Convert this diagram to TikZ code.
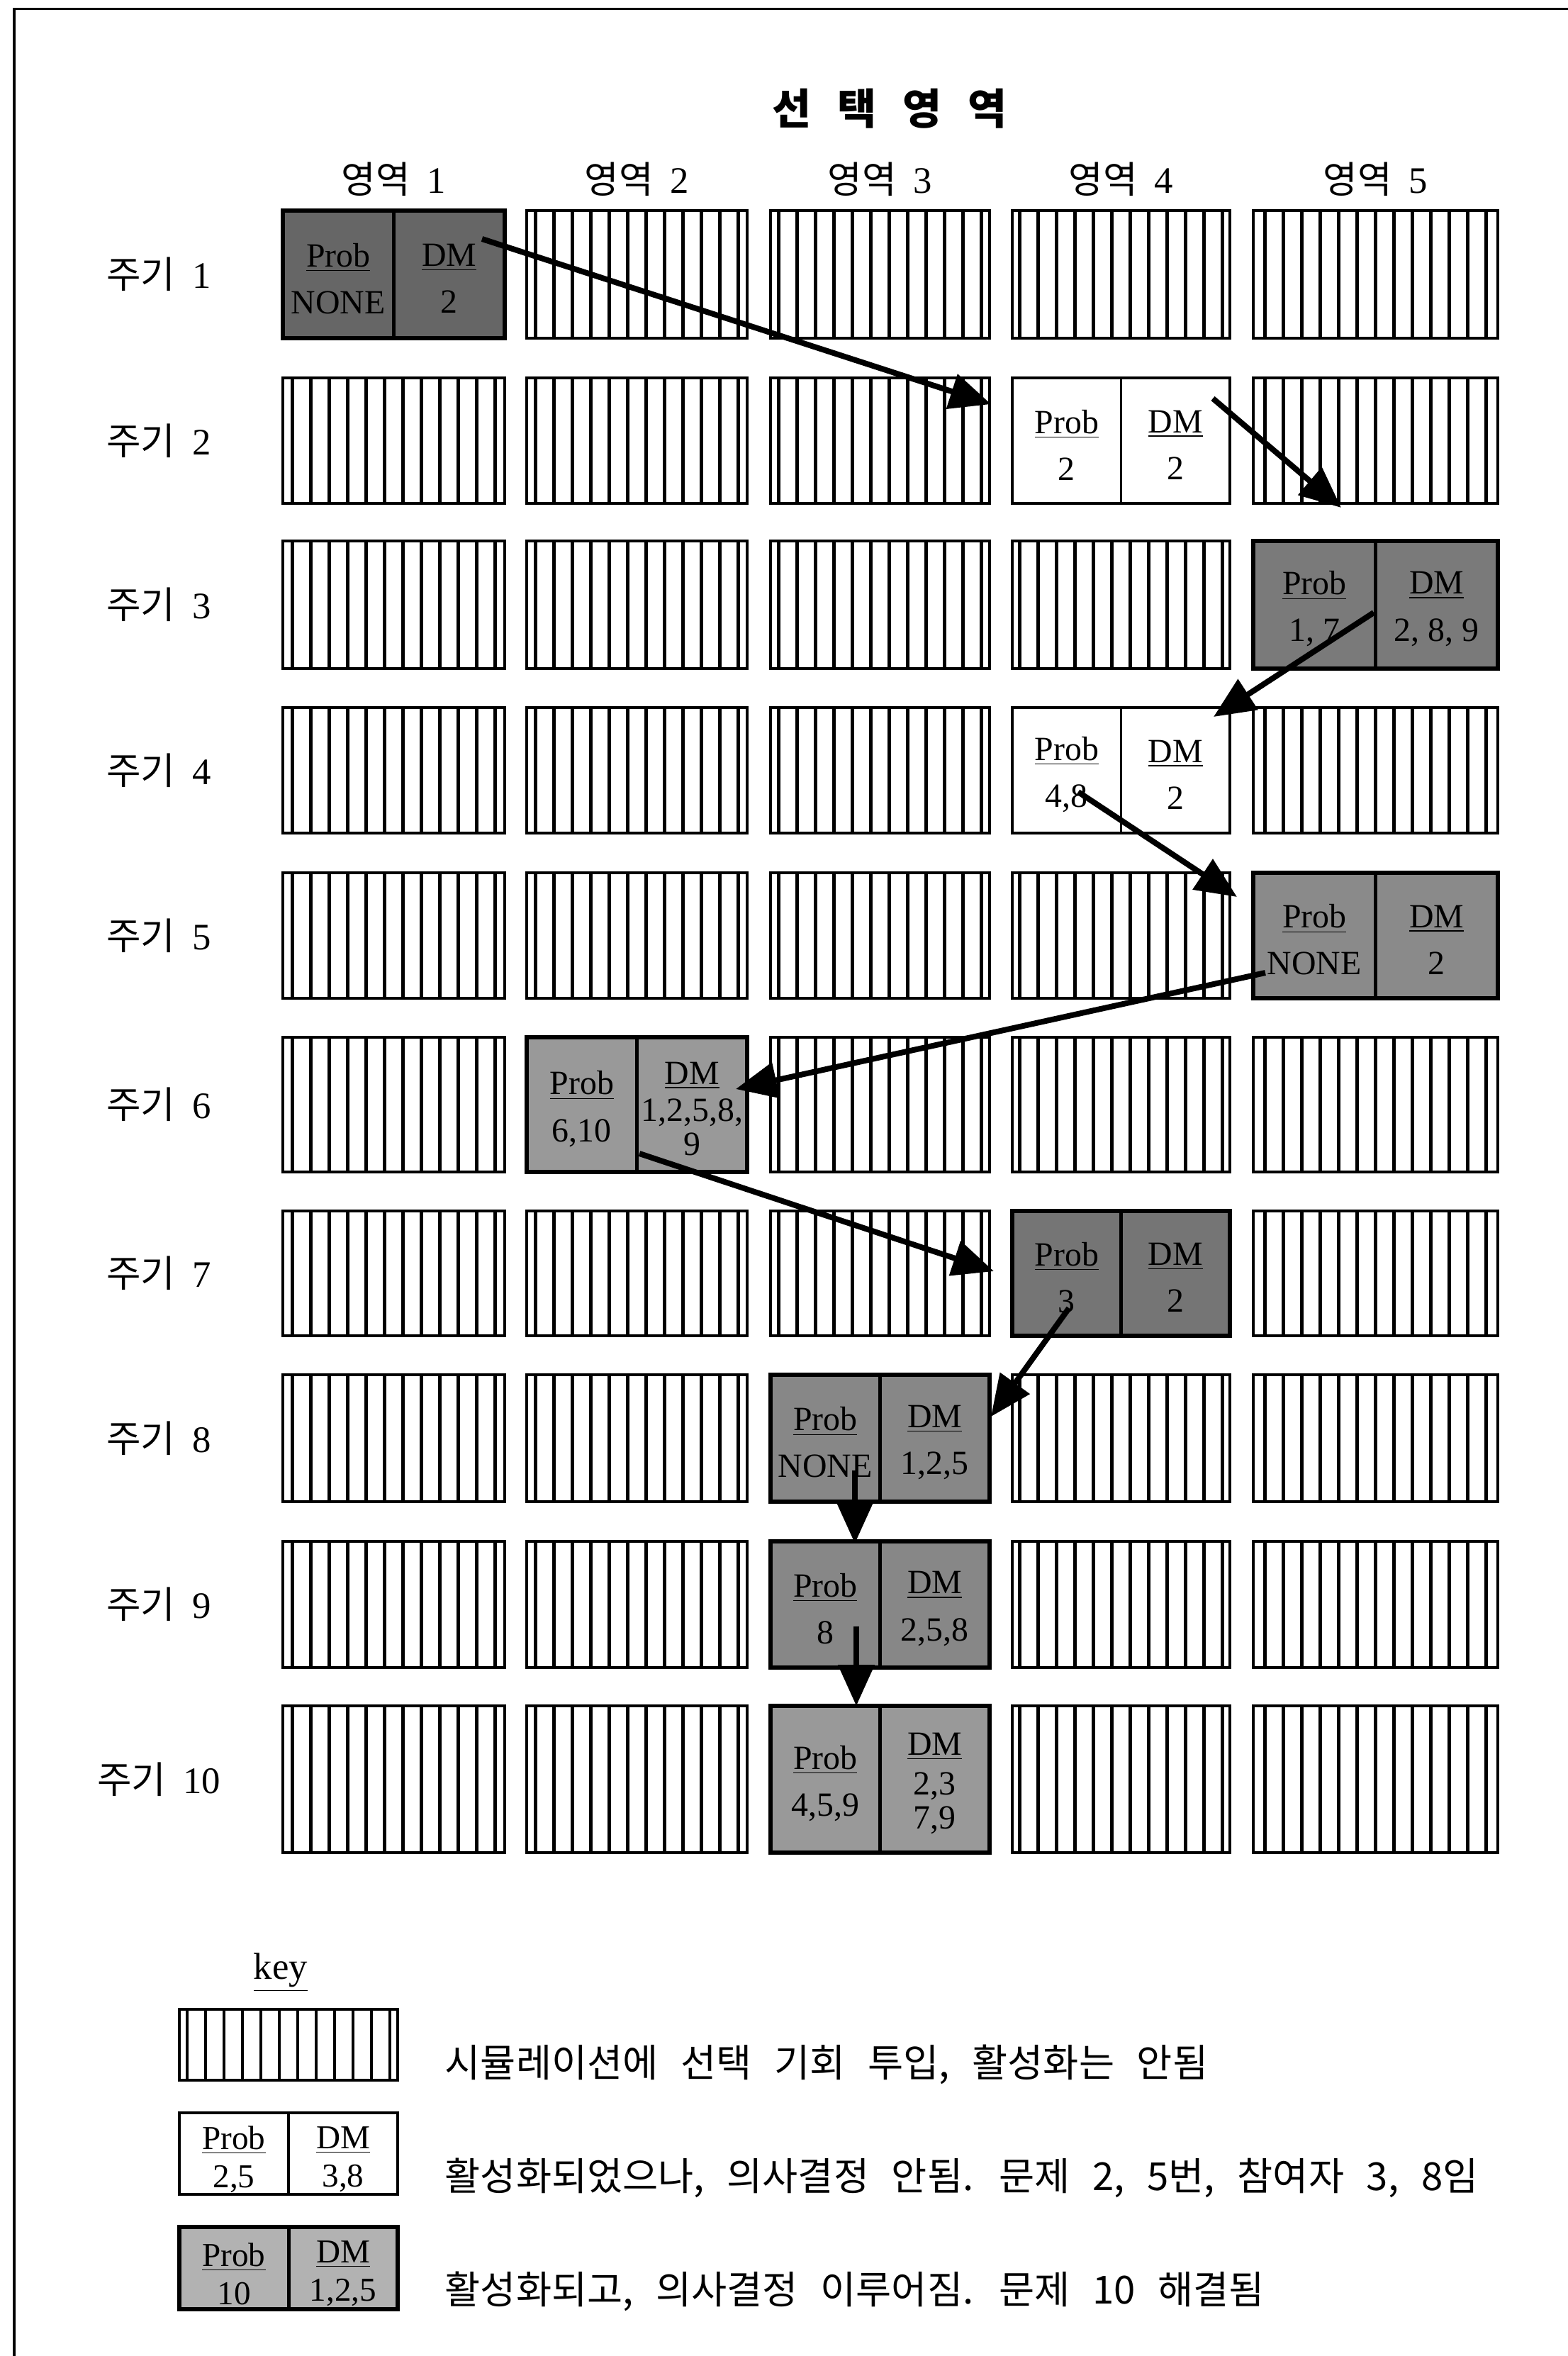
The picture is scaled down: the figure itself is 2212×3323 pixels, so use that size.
\documentclass[tikz,border=0pt]{standalone}
\usepackage{fontspec}
\setmainfont{Liberation Serif}
\newfontfamily\kr[WordSpace=2.6]{Noto Sans CJK KR}
\usetikzlibrary{arrows.meta,calc}
\tikzset{
  frameline/.style={line width=0.03cm},
  stripeframe/.style={line width=0.035cm},
  stripeline/.style={line width=0.045cm},
  open/.style={draw, rectangle, line width=0.035cm, inner sep=0pt, outer sep=0pt},
  opendiv/.style={line width=0.035cm},
  opentext/.style={inner sep=0pt, align=center, yshift=-0.06cm, font=\fontsize{13.6}{18.8}\selectfont},
  done/.style={draw, rectangle, line width=0.065cm, inner sep=0pt, outer sep=0pt},
  donediv/.style={line width=0.05cm},
  donetext/.style={inner sep=0pt, align=center, yshift=-0.06cm, font=\fontsize{13.6}{18.8}\selectfont},
  keyopen/.style={open},
  keyopendiv/.style={opendiv},
  keyopentext/.style={inner sep=0pt, align=center, yshift=-0.08cm, font=\fontsize{13.4}{15.4}\selectfont},
  keydone/.style={done},
  keydonediv/.style={donediv},
  keydonetext/.style={inner sep=0pt, align=center, yshift=-0.08cm, font=\fontsize{13.4}{15.4}\selectfont},
  hdr/.style={inner sep=0pt, font=\fontsize{15}{18}\selectfont},
  keytxt/.style={inner sep=0pt, anchor=base west, font=\fontsize{15.5}{18}\selectfont\kr},
  flow/.style={line width=0.08cm, -{Triangle[length=0.58cm,width=0.5cm]}},
}
% striped (not activated) box: left top right bottom
\newcommand\stripecell[4]{%
  \draw[stripeframe] (#1,#2) rectangle (#3,#4);
  \pgfmathtruncatemacro\nS{(#3-#1-20)/26}%
  \pgfmathsetmacro\oS{(#3-#1-\nS*26)/2}%
  \foreach \k in {0,...,\nS}{\draw[stripeline] ({#1+\oS+26*\k},#2) -- ({#1+\oS+26*\k},#4);}
}
% activated box: name kind fill l t r b probtext dmtext
\newcommand\actcell[9]{%
  \node[#2, fill=#3, minimum width={(#6-#4)*0.01cm}, minimum height={(#7-#5)*0.01cm}] (#1) at ({(#4+#6)/2},{(#5+#7)/2}) {};
  \draw[#2div] (#1.north) -- (#1.south);
  \node[#2text] (#1p) at ($(#1.center)!0.5!(#1.west)$) {#8};
  \node[#2text] (#1d) at ($(#1.center)!0.5!(#1.east)$) {#9};
}
\foreach \s in {1x1,2x4,3x5,4x4,5x5,6x2,7x4,8x3,9x3,10x3}{\expandafter\gdef\csname sp\s\endcsname{}}
\begin{document}
\begin{tikzpicture}[x=0.01cm,y=-0.01cm]
\useasboundingbox (0,0) rectangle (2212,3323);
\fill[white] (0,0) rectangle (2212,3323);
% frame (top and left edges only visible)
\draw[frameline] (20,3323) -- (20,12) -- (2212,12);
% title
\node[inner sep=0pt, font=\fontsize{17}{20}\selectfont\kr\bfseries] (title) at (1255,153) {선\hspace{0.62em}택\hspace{0.62em}영\hspace{0.62em}역};
% column headers
\foreach \c/\l/\rr in {1/399/712,2/743/1054,3/1087/1396,4/1428/1735,5/1768/2113}{
  \node[hdr] (h\c) at ({(\l+\rr)/2},253) {{\kr 영역}\hspace{0.45em}\c};
}
% rows: labels and not-activated boxes
\foreach \r/\t/\b in {1/297/477,2/533/710,3/763/943,4/998/1175,5/1231/1408,6/1463/1653,7/1708/1884,8/1939/2118,9/2174/2352,10/2406/2613}{
  \node[hdr] (r\r) at (224,{(\t+\b)/2}) {{\kr 주기}\hspace{0.45em}\r};
  \foreach \c/\l/\rr in {1/399/712,2/743/1054,3/1087/1396,4/1428/1735,5/1768/2113}{
    \ifcsname sp\r x\c\endcsname\else
      \stripecell{\l}{\t}{\rr}{\b}
    \fi
  }
}
% activated boxes
\actcell{b11}{done}{black!60}{399}{297}{712}{477}{\underline{Prob}\\NONE}{\underline{DM}\\2}
\actcell{b24}{open}{white}{1428}{533}{1735}{710}{\underline{Prob}\\2}{\underline{DM}\\2}
\actcell{b35}{done}{black!52}{1768}{763}{2113}{943}{\underline{Prob}\\1, 7}{\underline{DM}\\2, 8, 9}
\actcell{b44}{open}{white}{1428}{998}{1735}{1175}{\underline{Prob}\\4,8}{\underline{DM}\\2}
\actcell{b55}{done}{black!46}{1768}{1231}{2113}{1408}{\underline{Prob}\\NONE}{\underline{DM}\\2}
\actcell{b62}{done}{black!40}{743}{1463}{1054}{1653}{\underline{Prob}\\6,10}{\underline{DM}\\[-4pt]1,2,5,8,\\[-5pt]9}
\actcell{b74}{done}{black!54}{1428}{1708}{1735}{1884}{\underline{Prob}\\3}{\underline{DM}\\2}
\actcell{b83}{done}{black!47}{1087}{1939}{1396}{2118}{\underline{Prob}\\NONE}{\underline{DM}\\1,2,5}
\actcell{b93}{done}{black!47}{1087}{2174}{1396}{2352}{\underline{Prob}\\8}{\underline{DM}\\2,5,8}
\actcell{b103}{done}{black!40}{1087}{2406}{1396}{2613}{\underline{Prob}\\4,5,9}{\underline{DM}\\[-3pt]2,3\\[-5pt]7,9}
% flow arrows
\coordinate (a1s) at (680,337);   \coordinate (a1e) at (1398,570);
\coordinate (a2s) at (1711,562);  \coordinate (a2e) at (1892,716);
\coordinate (a3s) at (1938,864);  \coordinate (a3e) at (1712,1011);
\coordinate (a4s) at (1521,1117); \coordinate (a4e) at (1745,1265);
\coordinate (a5s) at (1785,1372); \coordinate (a5e) at (1038,1536);
\coordinate (a6s) at (902,1627);  \coordinate (a6e) at (1402,1793);
\coordinate (a7s) at (1508,1845); \coordinate (a7e) at (1398,1998);
\coordinate (a8s) at (1206,2074); \coordinate (a8e) at (1206,2177);
\coordinate (a9s) at (1208,2294); \coordinate (a9e) at (1208,2406);
\foreach \i in {1,...,9}{\draw[flow] (a\i s) -- (a\i e);}
% key
\node[inner sep=0pt, anchor=base, font=\fontsize{15}{18}\selectfont] (keyttl) at (396,2791) {\underline{key}};
\stripecell{253}{2834}{561}{2934}
\actcell{k2}{keyopen}{white}{253}{2980}{561}{3095}{\underline{Prob}\\2,5}{\underline{DM}\\3,8}
\actcell{k3}{keydone}{black!30}{253}{3141}{561}{3257}{\underline{Prob}\\10}{\underline{DM}\\1,2,5}
\node[keytxt] (kt1) at (627,2929) {시뮬레이션에 선택 기회 투입, 활성화는 안됨};
\node[keytxt] (kt2) at (627,3089) {활성화되었으나, 의사결정 안됨. 문제 2, 5번, 참여자 3, 8임};
\node[keytxt] (kt3) at (627,3249) {활성화되고, 의사결정 이루어짐. 문제 10 해결됨};
\end{tikzpicture}
\end{document}
